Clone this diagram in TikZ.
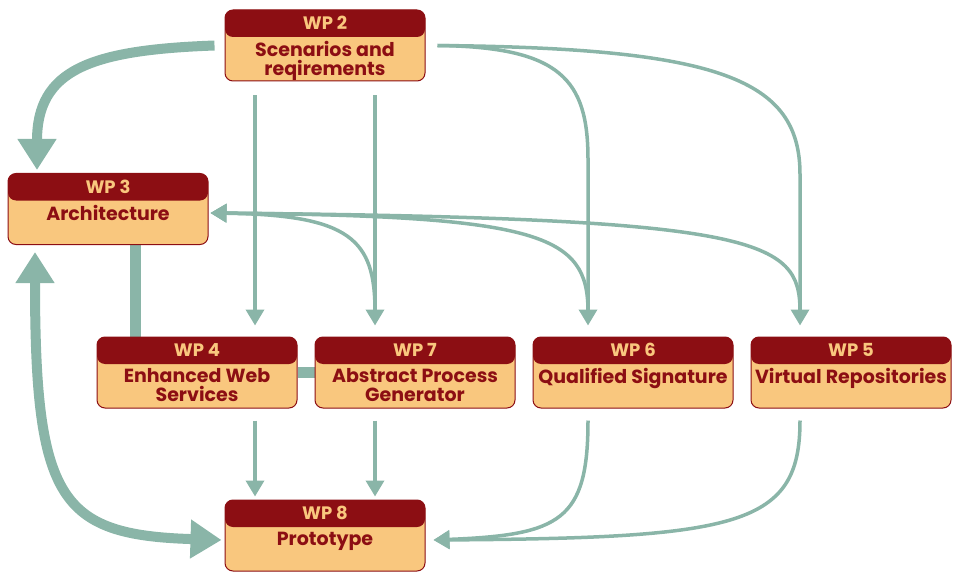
\documentclass[tikz,border=0pt]{standalone}
\usepackage{fontspec}
\setmainfont{Poppins}
\usepackage{tikz}
\usetikzlibrary{backgrounds}
\usetikzlibrary{positioning}
\usetikzlibrary{calc}
\usetikzlibrary{arrows.meta}
\definecolor{wpred}{HTML}{8C0E13}
\definecolor{wporange}{HTML}{F9C77E}
\definecolor{wpgreen}{HTML}{8AB5A8}
\tikzset{wpbox/.style={draw=wpred, line width=1pt, rounded corners=8pt, fill=wporange, minimum width=200pt, minimum height=71pt, inner sep=0pt,
    path picture={\fill[wpred] (path picture bounding box.north west) rectangle ([yshift=-27pt]path picture bounding box.north east);}}}
\tikzset{wpboxHead/.style={text=wporange, inner sep=0pt, font=\bfseries\fontsize{18}{20}\selectfont}}
\tikzset{wpboxText/.style={text=wpred, inner sep=0pt, anchor=north, align=center, font=\bfseries\fontsize{19}{19}\selectfont}}
\tikzset{myarrow/.style={draw=wpgreen, line width=3.5pt, -{Triangle[width=18pt,length=16pt]}}}
\tikzset{myarrowThick/.style={draw=wpgreen, line width=10pt, -{Triangle[width=37pt,length=31pt]}}}
\tikzset{mylineThick/.style={draw=wpgreen, line width=11pt}}

\begin{document}
\begin{tikzpicture}[x=1pt, y=1pt]

\useasboundingbox (0,0) rectangle (955,-572);

% work packages
\node[wpbox] (wp2) at (325,-45.5) {};
\node[wpbox] (wp3) at (108,-209) {};
\node[wpbox] (wp4) at (197,-372.5) {};
\node[wpbox] (wp7) at (415,-372.5) {};
\node[wpbox] (wp6) at (633,-372.5) {};
\node[wpbox] (wp5) at (851,-372.5) {};
\node[wpbox] (wp8) at (325,-535.5) {};

\node[wpboxHead] at ([yshift=-13.5pt]wp2.north) {WP 2};
\node[wpboxHead] at ([yshift=-13.5pt]wp3.north) {WP 3};
\node[wpboxHead] at ([yshift=-13.5pt]wp4.north) {WP 4};
\node[wpboxHead] at ([yshift=-13.5pt]wp7.north) {WP 7};
\node[wpboxHead] at ([yshift=-13.5pt]wp6.north) {WP 6};
\node[wpboxHead] at ([yshift=-13.5pt]wp5.north) {WP 5};
\node[wpboxHead] at ([yshift=-13.5pt]wp8.north) {WP 8};

\node[wpboxText] (wp2txt) at ([yshift=-32pt]wp2.north) {Scenarios and\\ reqirements};
\node[wpboxText] (wp3txt) at ([yshift=-32pt]wp3.north) {Architecture};
\node[wpboxText] (wp4txt) at ([yshift=-32pt]wp4.north) {Enhanced Web\\ Services};
\node[wpboxText] (wp7txt) at ([yshift=-32pt]wp7.north) {Abstract Process\\ Generator};
\node[wpboxText] (wp6txt) at ([yshift=-32pt]wp6.north) {Qualified Signature};
\node[wpboxText] (wp5txt) at ([yshift=-32pt]wp5.north) {Virtual Repositories};
\node[wpboxText] (wp8txt) at ([yshift=-32pt]wp8.north) {Prototype};

\begin{scope}[on background layer]
% from WP 2
\draw[myarrowThick] ([xshift=-10pt]wp2.west) .. controls +(-125,-4.5) and +(0,100) .. ([xshift=-71pt,yshift=3pt]wp3.north);
\draw[myarrow] ([xshift=-70pt,yshift=-14pt]wp2.south) -- ([xshift=58pt,yshift=11pt]wp4.north);
\draw[myarrow] ([xshift=50pt,yshift=-14pt]wp2.south) -- ([xshift=-40pt,yshift=11pt]wp7.north);
\draw[myarrow] ([xshift=12pt]wp2.east) .. controls +(123,-1.5) and +(0,80) .. ([xshift=-45pt,yshift=177pt]wp6.north) -- ([xshift=-45pt,yshift=11pt]wp6.north);
\draw[myarrow] ([xshift=12pt]wp2.east) .. controls +(283,-2.5) and +(0,95) .. ([xshift=-51pt,yshift=162pt]wp5.north) -- ([xshift=-51pt,yshift=11pt]wp5.north);

% back to WP 3
\draw[myarrow] ([xshift=-40pt,yshift=25pt]wp7.north) .. controls +(0,72) and +(140,-2) .. ([xshift=2pt,yshift=-4pt]wp3.east);
\draw[myarrow] ([xshift=-45pt,yshift=25pt]wp6.north) .. controls +(0,77) and +(330,-3) .. ([xshift=2pt,yshift=-4pt]wp3.east);
\draw[myarrow] ([xshift=-51pt,yshift=25pt]wp5.north) .. controls +(0,72) and +(550,-5) .. ([xshift=2pt,yshift=-4pt]wp3.east);

\draw[mylineThick] ([xshift=27pt]wp3.south) -- ([xshift=27pt]wp3.south |- wp4.north);
\draw[mylineThick] (wp4.east) -- (wp7.west);
\draw[myarrowThick, {Triangle[width=37pt,length=31pt]}-{Triangle[width=37pt,length=31pt]}] ([xshift=-73pt,yshift=-7pt]wp3.south) .. controls +(0,-248) and +(-162,5) .. ([xshift=-3pt,yshift=-4.5pt]wp8.west);

% into WP 8
\draw[myarrow] ([xshift=58pt,yshift=-12pt]wp4.south) -- ([xshift=-70pt,yshift=3pt]wp8.north);
\draw[myarrow] ([xshift=-40pt,yshift=-12pt]wp7.south) -- ([xshift=50pt,yshift=3pt]wp8.north);
\draw[myarrow] ([xshift=-45pt,yshift=-12pt]wp6.south) .. controls +(0,-100) and +(127,5) .. ([xshift=8pt,yshift=-4.5pt]wp8.east);
\draw[myarrow] ([xshift=-51pt,yshift=-12pt]wp5.south) .. controls +(0,-105) and +(307,2) .. ([xshift=8pt,yshift=-4.5pt]wp8.east);
\end{scope}

\end{tikzpicture}
\end{document}
